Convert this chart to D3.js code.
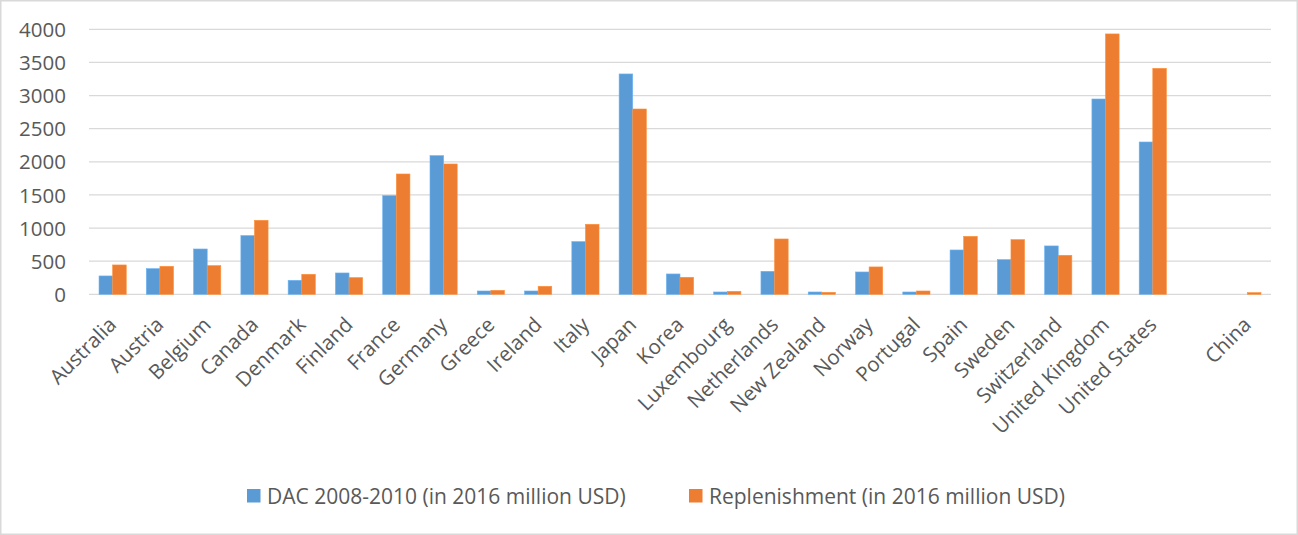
<!DOCTYPE html>
<html>
<head>
<meta charset="utf-8">
<script src="https://cdn.jsdelivr.net/npm/d3@7"></script>
<style>
  html, body { margin: 0; padding: 0; background: #fff; }
  svg { display: block; font-family: "Open Sans", "Noto Sans", sans-serif; }
</style>
</head>
<body>
<svg id="chart" width="1298" height="535"></svg>
<script>
// Donor countries (an empty slot separates China from the DAC members)
const categories = [
  "Australia", "Austria", "Belgium", "Canada", "Denmark", "Finland", "France",
  "Germany", "Greece", "Ireland", "Italy", "Japan", "Korea", "Luxembourg",
  "Netherlands", "New Zealand", "Norway", "Portugal", "Spain", "Sweden",
  "Switzerland", "United Kingdom", "United States", "", "China"
];

// DAC 2008-2010 (in 2016 million USD)
const dacValues = [
  277, 387, 684, 886, 211, 322, 1489, 2093, 50, 50, 795, 3326, 307, 35,
  347, 35, 337, 35, 669, 523, 730, 2948, 2299, 0, 0
];

// Replenishment (in 2016 million USD)
const replenishmentValues = [
  443, 423, 433, 1117, 302, 252, 1816, 1967, 60, 121, 1057, 2797, 257, 45,
  835, 30, 413, 50, 875, 825, 589, 3930, 3411, 0, 25
];

const seriesNames = [
  "DAC 2008-2010 (in 2016 million USD)",
  "Replenishment (in 2016 million USD)"
];
const seriesColors = ["#5B9BD5", "#ED7D31"];
const yTicks = [0, 500, 1000, 1500, 2000, 2500, 3000, 3500, 4000];

const svg = d3.select("#chart");
const W = 1298, H = 535;
const plot = { left: 89, right: 1271, top: 29.3, bottom: 294.3 };
const textColor = "#595959";
const gridColor = "#d9d9d9";

// Outer chart border
svg.append("rect")
  .attr("x", 0.75).attr("y", 0.75)
  .attr("width", W - 1.5).attr("height", H - 1.5)
  .attr("fill", "#fff")
  .attr("stroke", gridColor).attr("stroke-width", 1.5);

const x0 = d3.scaleBand()
  .domain(categories.map((c, i) => i))
  .range([plot.left, plot.right])
  .paddingInner(0).paddingOuter(0);

const x1 = d3.scaleBand()
  .domain([0, 1])
  .range([0, x0.bandwidth()])
  .paddingInner(0).paddingOuter(0.738);

const y = d3.scaleLinear().domain([0, 4000]).range([plot.bottom, plot.top]);

// Horizontal gridlines
svg.append("g")
  .selectAll("line")
  .data(yTicks)
  .join("line")
  .attr("x1", plot.left).attr("x2", plot.right)
  .attr("y1", d => y(d)).attr("y2", d => y(d))
  .attr("stroke", gridColor).attr("stroke-width", 1.3);

// Y axis labels
const yAxis = d3.axisLeft(y).tickValues(yTicks).tickFormat(d3.format("d"))
  .tickSize(0).tickPadding(0);
const yG = svg.append("g")
  .attr("transform", `translate(${plot.left - 23},0)`)
  .call(yAxis);
yG.select(".domain").remove();
yG.selectAll("text")
  .attr("fill", textColor)
  .style("font-size", "20.5px")
  .style("font-family", "'Open Sans', sans-serif")
  .attr("dy", "0.35em");

// Bars
const seriesData = [dacValues, replenishmentValues];
const groups = svg.append("g")
  .selectAll("g")
  .data(categories.map((c, i) => i))
  .join("g")
  .attr("transform", i => `translate(${x0(i)},0)`);

groups.selectAll("rect")
  .data(i => seriesData.map((vals, s) => ({ s, v: vals[i] })))
  .join("rect")
  .attr("x", d => x1(d.s))
  .attr("width", x1.bandwidth())
  .attr("y", d => y(d.v))
  .attr("height", d => y(0) - y(d.v))
  .attr("fill", d => seriesColors[d.s])
  .attr("stroke", d => d.v > 0 ? d3.color(seriesColors[d.s]).brighter(0.4) : "none")
  .attr("stroke-width", 0.6);

// Category labels, rotated 45 degrees
svg.append("g")
  .selectAll("text")
  .data(categories.map((c, i) => i))
  .join("text")
  .attr("transform", i => `translate(${x0(i) + x0.bandwidth() / 2 + 5},326) rotate(-45)`)
  .attr("text-anchor", "end")
  .attr("fill", textColor)
  .style("font-size", "20.5px")
  .text(i => categories[i]);

// Legend
const legendItems = [
  { x: 247, name: seriesNames[0], color: seriesColors[0] },
  { x: 689, name: seriesNames[1], color: seriesColors[1] }
];
const lg = svg.append("g").selectAll("g").data(legendItems).join("g")
  .attr("transform", d => `translate(${d.x},489)`);
lg.append("rect")
  .attr("width", 13.5).attr("height", 13.5)
  .attr("fill", d => d.color);
lg.append("text")
  .attr("x", 20).attr("y", 15)
  .attr("fill", textColor)
  .style("font-size", "21px")
  .text(d => d.name);
</script>
</body>
</html>
